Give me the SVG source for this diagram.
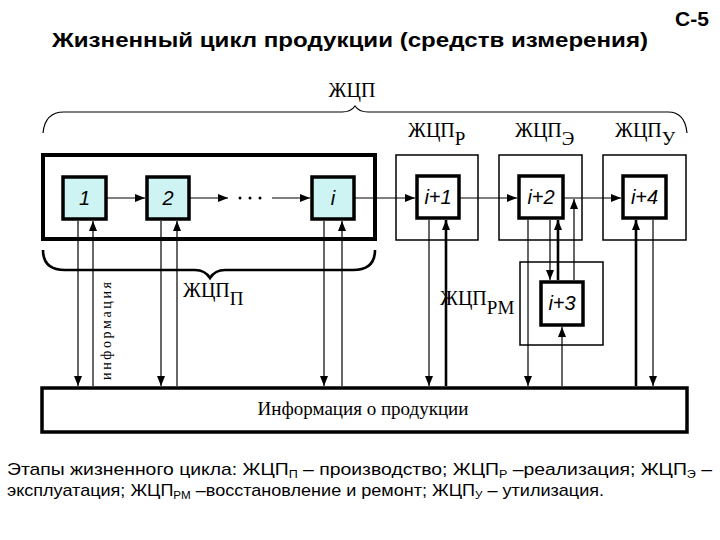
<svg xmlns="http://www.w3.org/2000/svg" width="720" height="540" viewBox="0 0 720 540">
<defs>
<style>
.title{font-family:"Liberation Sans",Arial,sans-serif;font-weight:bold;font-size:21px;fill:#000}
.serif{font-family:"Liberation Serif","Times New Roman",serif;fill:#000}
.lbl{font-family:"Liberation Sans",Arial,sans-serif;font-style:italic;font-size:20px;fill:#000;text-anchor:middle}
.cap{font-family:"Liberation Sans",Arial,sans-serif;font-size:17px;fill:#000}
.thin{stroke:#000;stroke-width:1.2;fill:none}
.thick{stroke:#000;stroke-width:2.6;fill:none}
.inner{fill:#cdf3f3;stroke:#000;stroke-width:3.5}
.innerw{fill:#fff;stroke:#000;stroke-width:3.5}
.outer{fill:none;stroke:#000;stroke-width:1.5}
</style>
<marker id="ah" markerUnits="userSpaceOnUse" markerWidth="10" markerHeight="8" refX="10" refY="4" orient="auto">
<path d="M0,0 L10,4 L0,8 z" fill="#000"/>
</marker>
</defs>
<rect width="720" height="540" fill="#fff"/>

<text class="title" x="52" y="47" textLength="596" lengthAdjust="spacingAndGlyphs">Жизненный цикл продукции (средств измерения)</text>
<text class="title" x="675" y="26">С-5</text>

<g id="brace-top">
<path class="thin" d="M43,133 Q45,112 64,112 L342,112 Q351,112 355,106 Q359,112 368,112 L668,112 Q685,112 687,133" stroke-width="1.4"/>
<text class="serif" x="352" y="97" font-size="20" text-anchor="middle">ЖЦП</text>
</g>

<g id="group-P">
<rect x="43" y="155" width="332" height="84" fill="none" stroke="#000" stroke-width="4"/>
</g>
<g id="node-1"><rect class="inner" x="63" y="177" width="43" height="42"/><text class="lbl" x="84.5" y="205" font-style="normal">1</text></g>
<g id="node-2"><rect class="inner" x="147" y="177" width="42" height="42"/><text class="lbl" x="168" y="205" font-style="normal">2</text></g>
<g id="dots"><circle cx="240" cy="198" r="1.5"/><circle cx="250" cy="198" r="1.5"/><circle cx="260" cy="198" r="1.5"/></g>
<g id="node-i"><rect class="inner" x="312" y="177" width="42" height="42"/><text class="lbl" x="333" y="205">i</text></g>

<g id="brace-P">
<path class="thick" d="M43,250 Q43,270 65,270 L195,270 Q205,270 210,278 Q215,270 225,270 L353,270 Q375,270 375,250"/>
<text class="serif" x="183" y="297" font-size="20">ЖЦП<tspan dy="8" font-size="19">П</tspan></text>
</g>

<g id="group-R">
<rect class="outer" x="396" y="155" width="82" height="85"/>
<text class="serif" x="408" y="137" font-size="20">ЖЦП<tspan dy="8" font-size="19">Р</tspan></text>
</g>
<g id="node-i1"><rect class="innerw" x="417" y="176" width="42" height="42"/><text class="lbl" x="438" y="204">i+1</text></g>

<g id="group-E">
<rect class="outer" x="499" y="155" width="83" height="85"/>
<text class="serif" x="515" y="137" font-size="20">ЖЦП<tspan dy="8" font-size="19">Э</tspan></text>
</g>
<g id="node-i2"><rect class="innerw" x="519" y="176" width="44" height="42"/><text class="lbl" x="541" y="204">i+2</text></g>

<g id="group-U">
<rect class="outer" x="603" y="155" width="83" height="85"/>
<text class="serif" x="615" y="137" font-size="20">ЖЦП<tspan dy="8" font-size="19">У</tspan></text>
</g>
<g id="node-i4"><rect class="innerw" x="623" y="176" width="43" height="42"/><text class="lbl" x="644.5" y="204">i+4</text></g>

<g id="group-RM">
<rect class="outer" x="520" y="262" width="83" height="83"/>
<text class="serif" x="440" y="305" font-size="20">ЖЦП<tspan dy="9" font-size="19">РМ</tspan></text>
</g>
<g id="node-i3"><rect class="innerw" x="541" y="282" width="42" height="43"/><text class="lbl" x="562" y="310">i+3</text></g>

<g id="info">
<rect x="42" y="388" width="645" height="44" fill="none" stroke="#000" stroke-width="3.5"/>
<text class="serif" x="363" y="415" font-size="19" text-anchor="middle">Информация о продукции</text>
</g>

<g id="connectors">
<line class="thin" x1="106" y1="198" x2="145" y2="198" marker-end="url(#ah)"/>
<line class="thin" x1="189" y1="198" x2="228" y2="198" marker-end="url(#ah)"/>
<line class="thin" x1="272" y1="198" x2="310" y2="198" marker-end="url(#ah)"/>
<line class="thin" x1="354" y1="198" x2="415" y2="198" marker-end="url(#ah)"/>
<line class="thin" x1="459" y1="198" x2="517" y2="198" marker-end="url(#ah)"/>
<line class="thin" x1="563" y1="198" x2="621" y2="198" marker-end="url(#ah)"/>

<line class="thin" x1="78" y1="221" x2="78" y2="386" marker-end="url(#ah)"/>
<line class="thin" x1="93" y1="386" x2="93" y2="221" marker-end="url(#ah)"/>
<line class="thin" x1="161" y1="221" x2="161" y2="386" marker-end="url(#ah)"/>
<line class="thin" x1="177" y1="386" x2="177" y2="221" marker-end="url(#ah)"/>
<line class="thin" x1="324" y1="221" x2="324" y2="386" marker-end="url(#ah)"/>
<line class="thin" x1="342" y1="386" x2="342" y2="221" marker-end="url(#ah)"/>

<line class="thin" x1="429" y1="220" x2="429" y2="386" marker-end="url(#ah)"/>
<line class="thick" x1="446" y1="386" x2="446" y2="220" marker-end="url(#ah)"/>

<line class="thin" x1="528" y1="220" x2="528" y2="386" marker-end="url(#ah)"/>
<line class="thin" x1="550" y1="220" x2="550" y2="280" marker-end="url(#ah)"/>
<line class="thick" x1="558" y1="280" x2="558" y2="220" marker-end="url(#ah)"/>
<line class="thin" x1="574" y1="280" x2="574" y2="199" marker-end="url(#ah)"/>
<line class="thin" x1="562" y1="386" x2="562" y2="327" marker-end="url(#ah)"/>

<line class="thick" x1="636" y1="386" x2="636" y2="220" marker-end="url(#ah)"/>
<line class="thin" x1="653" y1="220" x2="653" y2="386" marker-end="url(#ah)"/>
</g>

<text class="serif" transform="translate(111,331) rotate(-90)" font-size="14" text-anchor="middle" textLength="98" lengthAdjust="spacing">информация</text>

<g id="caption">
<text class="cap" x="7" y="475" textLength="705" lengthAdjust="spacingAndGlyphs">Этапы  жизненного  цикла:  ЖЦП<tspan dy="3" font-size="11">П</tspan><tspan dy="-3">  –  производство;  ЖЦП</tspan><tspan dy="3" font-size="11">Р</tspan><tspan dy="-3">  –реализация;  ЖЦП</tspan><tspan dy="3" font-size="11">Э</tspan><tspan dy="-3">  –</tspan></text>
<text class="cap" x="7" y="496" textLength="597" lengthAdjust="spacingAndGlyphs">эксплуатация; ЖЦП<tspan dy="3" font-size="11">РМ</tspan><tspan dy="-3"> –восстановление и ремонт; ЖЦП</tspan><tspan dy="3" font-size="11">У</tspan><tspan dy="-3"> – утилизация.</tspan></text>
</g>
</svg>
